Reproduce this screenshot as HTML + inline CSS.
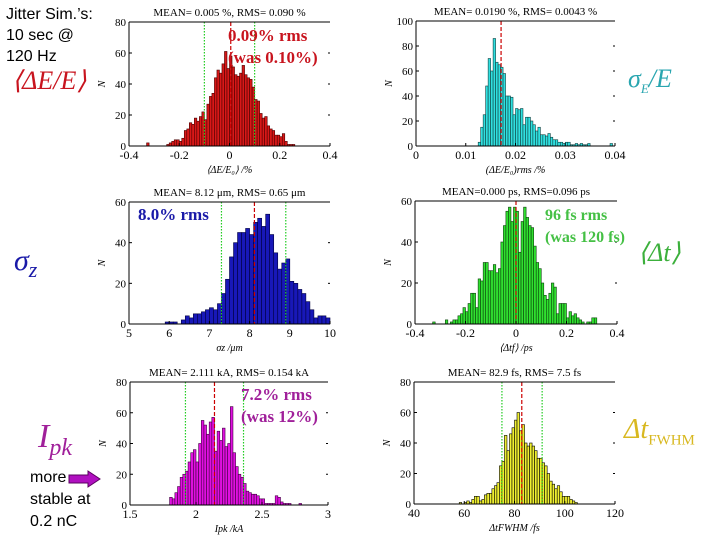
<!DOCTYPE html>
<html><head><meta charset="utf-8">
<style>
body{margin:0;background:#fff;}
#wrap{position:relative;width:720px;height:540px;overflow:hidden;background:#fff;font-family:"Liberation Serif",serif;}
.lbl{position:absolute;white-space:nowrap;}
.sans{font-family:"Liberation Sans",sans-serif;}
</style></head>
<body>
<div id="wrap">
<div class="lbl sans" style="left:6px;top:4px;font-size:16px;line-height:21px;color:#000">Jitter Sim.’s:<br>10 sec @<br>120 Hz</div>
<div class="lbl" style="left:12px;top:66px;font-size:26px;color:#c8141e;font-style:italic">⟨ΔE/E⟩</div>
<div class="lbl" style="left:14px;top:244px;font-size:30px;color:#1a1aa8;font-style:italic">σ<sub style="font-size:22px">z</sub></div>
<div class="lbl" style="left:38px;top:418px;font-size:34px;color:#a0209a;font-style:italic">I<sub style="font-size:24px">pk</sub></div>
<div class="lbl sans" style="left:30px;top:467px;font-size:16px;line-height:22px;color:#000">more<br>stable at<br>0.2 nC</div>
<svg class="lbl" style="left:68px;top:470px" width="34" height="18"><polygon points="1,5 20,5 20,1 32,9 20,17 20,13 1,13" fill="#b010c0" stroke="#5a0060"/></svg>
<div class="lbl" style="left:628px;top:64px;font-size:26px;color:#2aa6b0;font-style:italic">σ<sub style="font-size:13px">E</sub>/E</div>
<div class="lbl" style="left:638px;top:238px;font-size:26px;color:#3cb03c;font-style:italic">⟨Δt⟩</div>
<div class="lbl" style="left:624px;top:414px;font-size:28px;color:#d8b820;font-style:italic">Δt<sub style="font-size:15px;font-style:normal">FWHM</sub></div>
<svg id="charts" width="720" height="540" style="position:absolute;left:0;top:0"></svg>
<div class="lbl" style="left:228px;top:25px;font-size:17px;font-weight:bold;color:#c8141e;line-height:22px">0.09% rms<br>(was 0.10%)</div>
<div class="lbl" style="left:138px;top:205px;font-size:17px;font-weight:bold;color:#1a1aa8">8.0% rms</div>
<div class="lbl" style="left:545px;top:205px;font-size:16px;font-weight:bold;color:#44c044;line-height:22px">96 fs rms<br>(was 120 fs)</div>
<div class="lbl" style="left:241px;top:384px;font-size:17px;font-weight:bold;color:#a0209a;line-height:22px">7.2% rms<br>(was 12%)</div>
</div>
<script>
// Panel 1: dE/E
const deStart = [-0.33, -0.25];
const deBins = [-0.33,-0.25,-0.24,-0.23,-0.22,-0.21,-0.2,-0.19,-0.18,-0.17,-0.16,-0.15,-0.14,-0.13,-0.12,-0.11,-0.1,-0.09,-0.08,-0.07,-0.06,-0.05,-0.04,-0.03,-0.02,-0.01,0,0.01,0.02,0.03,0.04,0.05,0.06,0.07,0.08,0.09,0.1,0.11,0.12,0.13,0.14,0.15,0.16,0.17,0.18,0.19,0.2,0.21,0.22,0.23,0.24,0.25];
const deCounts = [2,1,2,3,4,4,3,5,10,11,15,14,18,16,19,22,17,27,32,34,44,49,47,53,61,50,58,51,46,45,47,52,46,44,43,38,30,29,21,18,19,13,11,10,7,7,6,8,3,1,1,1];
const deXTicks = [-0.4,-0.2,0,0.2,0.4];
const deXTickLabels = ["-0.4","-0.2","0","0.2","0.4"];
const deYTicks = [0,20,40,60,80];
const deLines = [0.005,-0.1,0.1];
// Panel 2: sigmaE/E
const seBins = [0.0125,0.013,0.0135,0.014,0.0145,0.015,0.0155,0.016,0.0165,0.017,0.0175,0.018,0.0185,0.019,0.0195,0.02,0.0205,0.021,0.0215,0.022,0.0225,0.023,0.0235,0.024,0.0245,0.025,0.0255,0.026,0.0265,0.027,0.0275,0.028,0.0285,0.029,0.0295,0.03,0.0305,0.031,0.0315,0.032,0.0325,0.033,0.0335,0.034,0.0345,0.039];
const seCounts = [3,15,25,48,70,60,86,67,65,63,58,40,40,39,25,30,29,30,17,23,23,20,17,12,15,9,9,8,10,7,5,5,3,3,2,3,3,1,1,2,1,2,1,1,2,2];
const seXTicks = [0,0.01,0.02,0.03,0.04];
const seXTickLabels = ["0","0.01","0.02","0.03","0.04"];
const seYTicks = [0,20,40,60,80,100];
const seLines = [0.0171];
// Panel 3: sigma z
const szBins = [5.9,6.0,6.1,6.2,6.3,6.4,6.5,6.6,6.7,6.8,6.9,7.0,7.1,7.2,7.3,7.4,7.5,7.6,7.7,7.8,7.9,8.0,8.1,8.2,8.3,8.4,8.5,8.6,8.7,8.8,8.9,9.0,9.1,9.2,9.3,9.4,9.5,9.6,9.7,9.8,9.9];
const szCounts = [1,1,1,0,2,4,3,5,5,6,7,8,7,10,15,22,33,40,45,45,47,44,50,52,48,54,44,35,27,30,32,21,20,17,15,11,7,3,4,4,3];
const szXTicks = [5,6,7,8,9,10];
const szXTickLabels = ["5","6","7","8","9","10"];
const szYTicks = [0,20,40,60];
const szLines = [8.12,7.3,8.9];
// Panel 4: delta t
const dtBins = [-0.33,-0.32,-0.31,-0.30,-0.29,-0.28,-0.27,-0.26,-0.25,-0.24,-0.23,-0.22,-0.21,-0.20,-0.19,-0.18,-0.17,-0.16,-0.15,-0.14,-0.13,-0.12,-0.11,-0.10,-0.09,-0.08,-0.07,-0.06,-0.05,-0.04,-0.03,-0.02,-0.01,0.00,0.01,0.02,0.03,0.04,0.05,0.06,0.07,0.08,0.09,0.10,0.11,0.12,0.13,0.14,0.15,0.16,0.17,0.18,0.19,0.20,0.21,0.22,0.23,0.24,0.25,0.26,0.27,0.28,0.29,0.30,0.31];
const dtCounts = [1,0,0,0,0,2,0,1,2,2,4,5,8,6,10,15,15,8,22,21,30,30,26,26,29,25,27,40,48,55,57,50,57,55,35,50,57,52,48,47,38,30,27,20,14,12,15,20,18,5,10,10,10,3,6,4,5,3,2,1,0,1,1,3,3];
const dtXTicks = [-0.4,-0.2,0,0.2,0.4];
const dtXTickLabels = ["-0.4","-0.2","0","0.2","0.4"];
const dtYTicks = [0,20,40,60];
const dtLines = [0.0];
// Panel 5: Ipk
const ipBins = [1.80,1.82,1.84,1.86,1.88,1.90,1.92,1.94,1.96,1.98,2.00,2.02,2.04,2.06,2.08,2.10,2.12,2.14,2.16,2.18,2.20,2.22,2.24,2.26,2.28,2.30,2.32,2.34,2.36,2.38,2.40,2.42,2.44,2.46,2.48,2.50,2.52,2.54,2.56,2.58,2.60,2.62,2.64,2.66,2.68,2.70,2.78];
const ipCounts = [5,4,8,12,18,20,22,28,34,36,28,40,55,52,46,54,57,35,48,42,50,38,40,64,34,25,20,18,14,9,8,7,7,6,4,4,1,1,1,1,6,5,2,1,1,1,1];
const ipXTicks = [1.5,2,2.5,3];
const ipXTickLabels = ["1.5","2","2.5","3"];
const ipYTicks = [0,20,40,60,80];
const ipLines = [2.14,1.92,2.36];
// Panel 6: dt FWHM
const fwBins = [58,59,60,61,62,63,64,65,66,67,68,69,70,71,72,73,74,75,76,77,78,79,80,81,82,83,84,85,86,87,88,89,90,91,92,93,94,95,96,97,98,99,100,101,102,103,104];
const fwCounts = [1,0,1,2,1,3,5,5,2,3,6,7,7,10,12,14,25,28,45,35,46,50,55,60,48,52,40,38,40,38,35,30,30,27,25,20,15,13,10,12,8,5,5,5,3,2,1];
const fwXTicks = [40,60,80,100,120];
const fwXTickLabels = ["40","60","80","100","120"];
const fwYTicks = [0,20,40,60,80];
const fwLines = [82.9,75,91];

const NS="http://www.w3.org/2000/svg";
const svg=document.getElementById('charts');
function mk(tag,attrs,parent){const e=document.createElementNS(NS,tag);for(const k in attrs)e.setAttribute(k,attrs[k]);(parent||svg).appendChild(e);return e;}

function panel(p){
  const g=mk('g',{});
  
  
  const xs=v=>p.L+(v-p.xmin)/(p.xmax-p.xmin)*(p.R-p.L);
  const ys=v=>p.B-(v-p.ymin)/(p.ymax-p.ymin)*(p.B-p.T);
  p.bins.forEach((b,i)=>{
    const x0=xs(b), x1=xs(b+p.bw);
    const r=mk('rect',{x:x0,y:ys(p.counts[i]),width:Math.max(0.5,x1-x0),height:ys(0)-ys(p.counts[i]),fill:p.fill,stroke:p.edge,'stroke-width':0.6},g);
    
    
  });
  p.lines.forEach((v,i)=>{
    const l=mk('line',{x1:xs(v),x2:xs(v),y1:p.T,y2:p.B,stroke:i===0?'#c00':'#2c2','stroke-width':1.2,'stroke-dasharray':i===0?'4,2':'1.5,1.5'},g);
    
    
  });
  mk('line',{x1:p.L,x2:p.L,y1:p.T,y2:p.B,stroke:'#000'},g);
  mk('line',{x1:p.L,x2:p.R,y1:p.B,y2:p.B,stroke:'#000'},g);
  mk('line',{x1:p.L,x2:p.R,y1:p.T,y2:p.T,stroke:'#000'},g);
  p.xt.forEach((v,i)=>{
    mk('line',{x1:xs(v),x2:xs(v),y1:p.B,y2:p.B-3,stroke:'#000'},g);
    const t=mk('text',{x:xs(v),y:p.B+13,'font-size':12,'text-anchor':'middle'},g);t.textContent=p.xl[i];
    
    
  });
  p.yt.forEach(v=>{
    mk('line',{x1:p.L,x2:p.L+3,y1:ys(v),y2:ys(v),stroke:'#000'},g);
    mk('line',{x1:p.R-2,x2:p.R,y1:ys(v),y2:ys(v),stroke:'#000'},g);
    const t=mk('text',{x:p.L-3,y:ys(v)+4,'font-size':11,'text-anchor':'end'},g);t.textContent=v;
    
    
  });
  const tt=mk('text',{x:(p.L+p.R)/2,y:p.T-6,'font-size':11,'text-anchor':'middle'},g);tt.textContent=p.title;
  
  
  const yl=mk('text',{x:p.L-24,y:(p.T+p.B)/2,'font-size':10,'text-anchor':'middle','font-style':'italic',transform:`rotate(-90 ${p.L-24} ${(p.T+p.B)/2})`},g);yl.textContent='N';
  
  
  const xl=mk('text',{x:(p.L+p.R)/2,y:p.B+27,'font-size':10,'text-anchor':'middle','font-style':'italic'},g);xl.textContent=p.xlabel;
  
  
}
panel({name:'de-histogram',L:129,R:330,T:22,B:146,xmin:-0.4,xmax:0.4,ymin:0,ymax:80,bw:0.01,bins:deBins,counts:deCounts,xt:deXTicks,xl:deXTickLabels,yt:deYTicks,lines:deLines,fill:'#d81818',edge:'#4a0000',title:'MEAN=  0.005 %, RMS=  0.090 %',xlabel:'⟨ΔE/E₀⟩ /%'});
panel({name:'sigma-e-histogram',L:416,R:615,T:21,B:146,xmin:0,xmax:0.04,ymin:0,ymax:100,bw:0.0005,bins:seBins,counts:seCounts,xt:seXTicks,xl:seXTickLabels,yt:seYTicks,lines:seLines,fill:'#30e0e0',edge:'#104040',title:'MEAN= 0.0190 %, RMS= 0.0043 %',xlabel:'(ΔE/E₀)rms /%'});
panel({name:'sigma-z-histogram',L:129,R:330,T:202,B:324,xmin:5,xmax:10,ymin:0,ymax:60,bw:0.1,bins:szBins,counts:szCounts,xt:szXTicks,xl:szXTickLabels,yt:szYTicks,lines:szLines,fill:'#1818b8',edge:'#000040',title:'MEAN= 8.12 μm, RMS= 0.65 μm',xlabel:'σz /μm'});
panel({name:'delta-t-histogram',L:415,R:617,T:201,B:324,xmin:-0.4,xmax:0.4,ymin:0,ymax:60,bw:0.01,bins:dtBins,counts:dtCounts,xt:dtXTicks,xl:dtXTickLabels,yt:dtYTicks,lines:dtLines,fill:'#30e030',edge:'#0a400a',title:'MEAN=0.000 ps, RMS=0.096 ps',xlabel:'⟨Δtf⟩ /ps'});
panel({name:'ipk-histogram',L:130,R:328,T:382,B:505,xmin:1.5,xmax:3,ymin:0,ymax:80,bw:0.02,bins:ipBins,counts:ipCounts,xt:ipXTicks,xl:ipXTickLabels,yt:ipYTicks,lines:ipLines,fill:'#e010e0',edge:'#400040',title:'MEAN=  2.111 kA, RMS=  0.154 kA',xlabel:'Ipk /kA'});
panel({name:'fwhm-histogram',L:414,R:615,T:382,B:504,xmin:40,xmax:120,ymin:0,ymax:80,bw:1,bins:fwBins,counts:fwCounts,xt:fwXTicks,xl:fwXTickLabels,yt:fwYTicks,lines:fwLines,fill:'#f0f030',edge:'#000',title:'MEAN= 82.9 fs, RMS=  7.5 fs',xlabel:'ΔtFWHM /fs'});
</script>
</body></html>
